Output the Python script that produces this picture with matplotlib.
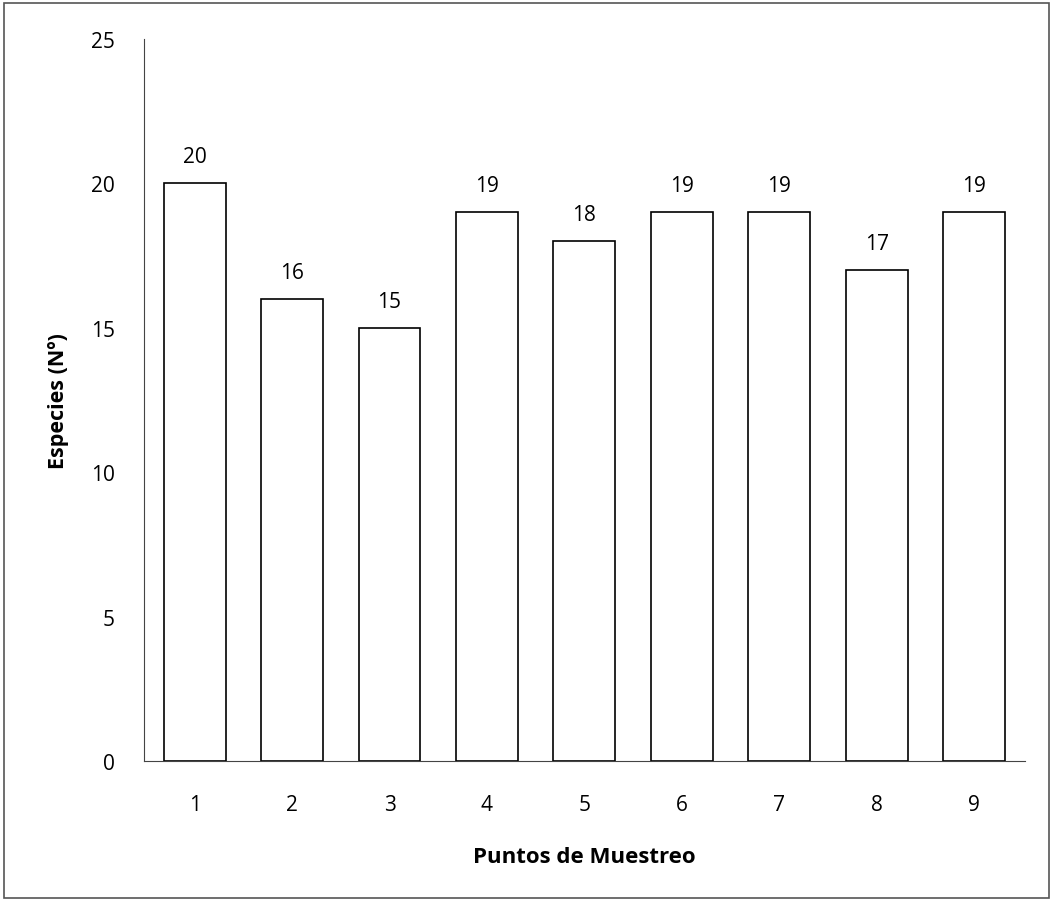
import matplotlib
matplotlib.use("Agg")
import matplotlib.pyplot as plt
from matplotlib.patches import Rectangle

categories = ["1", "2", "3", "4", "5", "6", "7", "8", "9"]
values = [20, 16, 15, 19, 18, 19, 19, 17, 19]
yticks = [0, 5, 10, 15, 20, 25]

plt.rcParams['font.family'] = ['Open Sans', 'DejaVu Sans']

fig = plt.figure(figsize=(10.51, 9.03), dpi=100)
ax = fig.add_axes([0.137, 0.156, 0.838, 0.80])

x = list(range(len(categories)))
ax.bar(x, values, width=0.635, color="white", edgecolor="black", linewidth=1.2)
for xi, v in zip(x, values):
    ax.text(xi, v + 0.55, str(v), ha="center", va="bottom", fontsize=15)

ax.set_xlim(-0.52, len(categories) - 0.48)
ax.set_ylim(0, 25)
ax.set_xticks(x)
ax.set_xticklabels(categories, fontsize=15)
ax.set_yticks(yticks)
ax.set_yticklabels([str(t) for t in yticks], fontsize=15)
ax.tick_params(axis='x', length=0, pad=24)
ax.tick_params(axis='y', length=0, pad=21)
for s in ["top", "right"]:
    ax.spines[s].set_visible(False)
ax.spines["left"].set_color("#444444")
ax.spines["bottom"].set_color("#444444")

ax.set_ylabel("Especies (Nº)", fontsize=15.5, fontweight="bold", labelpad=16)
ax.set_xlabel("Puntos de Muestreo", fontsize=16, fontweight="bold", labelpad=22)

fig.patches.append(Rectangle((0.004, 0.004), 0.994, 0.992, transform=fig.transFigure,
                             fill=False, edgecolor="#555555", linewidth=1.2))

fig.savefig("out.png", dpi=100)
